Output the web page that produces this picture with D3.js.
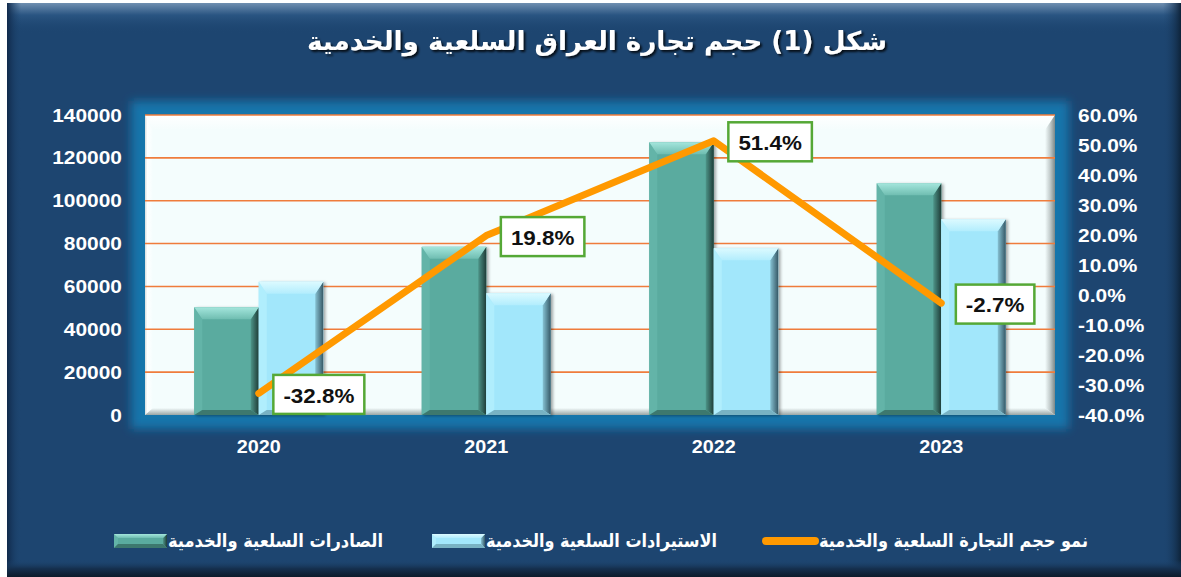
<!DOCTYPE html>
<html>
<head>
<meta charset="utf-8">
<script src="https://cdn.jsdelivr.net/npm/d3@7"></script>
<style>
  body { margin: 0; background: #fff; }
  svg { display: block; }
</style>
</head>
<body>
<script>
// chart values
const titleText = "شكل (1) حجم تجارة العراق السلعية والخدمية";
const years = ["2020", "2021", "2022", "2023"];
const exportsVals = [50300, 78500, 127300, 108100];
const importsVals = [62200, 56800, 77800, 91300];
const growthVals = [-32.8, 19.8, 51.4, -2.7];
const leftTicks = [0, 20000, 40000, 60000, 80000, 100000, 120000, 140000];
const rightTicks = [-40, -30, -20, -10, 0, 10, 20, 30, 40, 50, 60];
const legendNames = ["الصادرات السلعية والخدمية", "الاستيرادات السلعية والخدمية", "نمو حجم التجارة السلعية والخدمية"];

const W = 1181, H = 577;
const plot = {left: 145, top: 115, right: 1055, bottom: 415};
const stretch = 1.1;

const svg = d3.select("body").append("svg").attr("width", W).attr("height", H);
const defs = svg.append("defs");

function grad(id, x1, y1, x2, y2, stops) {
    let g = defs.append("linearGradient").attr("id", id)
        .attr("x1", x1).attr("y1", y1).attr("x2", x2).attr("y2", y2);
    stops.forEach(function (s) {
        g.append("stop").attr("offset", s[0]).attr("stop-color", s[1])
            .attr("stop-opacity", s[2] === undefined ? 1 : s[2]);
    });
}

grad("topHi", 0, 0, 0, 1, [[0, "#6f8fb0"], [0.4, "#2a5582"], [1, "#1d4570", 0]]);
grad("rightDk", 0, 0, 1, 0, [[0, "#1d4570", 0], [1, "#0e2339"]]);
grad("leftDk", 0, 0, 1, 0, [[0, "#10294a"], [1, "#1d4570", 0]]);
grad("botDk", 0, 0, 0, 1, [[0, "#1d4570", 0], [0.5, "#15304f"], [1, "#0c1a2a"]]);
grad("pTop", 0, 0, 0, 1, [[0, "#ffffff"], [1, "#f4fdfd"]]);
grad("pLeft", 0, 0, 1, 0, [[0, "#d8dede"], [0.3, "#ffffff"], [1, "#f4fdfd"]]);
grad("pRight", 0, 0, 1, 0, [[0, "#f4fdfd"], [0.5, "#c3cccc"], [1, "#7d8888"]]);
grad("pBot", 0, 0, 0, 1, [[0, "#f4fdfd"], [1, "#9aa5a5"]]);

grad("tealTop", 0, 0, 0, 1, [[0, "#a4e6dc"], [1, "#6fbdb1"]]);
grad("tealRight", 0, 0, 1, 0, [[0, "#4d9488"], [1, "#1f3d38"]]);
grad("blueTop", 0, 0, 0, 1, [[0, "#dcfaff"], [1, "#b2edfd"]]);
grad("blueRight", 0, 0, 1, 0, [[0, "#86c2d3"], [1, "#365866"]]);

let blur = defs.append("filter").attr("id", "glow").attr("x", "-10%").attr("y", "-10%")
    .attr("width", "120%").attr("height", "120%");
blur.append("feGaussianBlur").attr("stdDeviation", 5);

let shadow = defs.append("filter").attr("id", "shadow").attr("x", "-20%").attr("y", "-20%")
    .attr("width", "140%").attr("height", "140%");
shadow.append("feDropShadow").attr("dx", 2).attr("dy", 1).attr("stdDeviation", 1.5)
    .attr("flood-color", "#000").attr("flood-opacity", 0.35);

let tshadow = defs.append("filter").attr("id", "tshadow").attr("x", "-10%").attr("y", "-30%")
    .attr("width", "120%").attr("height", "160%");
tshadow.append("feDropShadow").attr("dx", 2).attr("dy", 2).attr("stdDeviation", 1.2)
    .attr("flood-color", "#000").attr("flood-opacity", 0.8);

// panel
svg.append("rect").attr("x", 7).attr("y", 3).attr("width", W - 7).attr("height", H - 3).attr("fill", "#1d4570");
svg.append("rect").attr("x", 7).attr("y", 3).attr("width", W - 7).attr("height", 30).attr("fill", "url(#topHi)");
svg.append("rect").attr("x", 7).attr("y", 3).attr("width", 14).attr("height", H - 3).attr("fill", "url(#leftDk)");
svg.append("rect").attr("x", W - 18).attr("y", 3).attr("width", 18).attr("height", H - 3).attr("fill", "url(#rightDk)");
svg.append("rect").attr("x", 7).attr("y", 560).attr("width", W - 7).attr("height", H - 560).attr("fill", "url(#botDk)");

// title
svg.append("text")
    .attr("x", 597).attr("y", 50)
    .attr("text-anchor", "middle")
    .attr("textLength", 580).attr("lengthAdjust", "spacingAndGlyphs")
    .attr("filter", "url(#tshadow)")
    .style("font", "bold 26px 'DejaVu Sans', sans-serif")
    .style("fill", "#fff")
    .text(titleText);

// plot area glow + bevel
svg.append("rect").attr("x", 131).attr("y", 101).attr("width", plot.right - plot.left + 28)
    .attr("height", plot.bottom - plot.top + 28).attr("fill", "#1475ab").attr("filter", "url(#glow)");
let pw = plot.right - plot.left, ph = plot.bottom - plot.top;
svg.append("rect").attr("x", plot.left).attr("y", plot.top).attr("width", pw).attr("height", ph).attr("fill", "#f4fdfd");
let pb = 10;
svg.append("polygon").attr("fill", "url(#pTop)")
    .attr("points", [[plot.left, plot.top], [plot.right, plot.top], [plot.right - pb, plot.top + 15], [plot.left + 8, plot.top + 15]].join(" "));
svg.append("polygon").attr("fill", "url(#pLeft)")
    .attr("points", [[plot.left, plot.top], [plot.left + 8, plot.top + 15], [plot.left + 8, plot.bottom - 7], [plot.left, plot.bottom]].join(" "));
svg.append("polygon").attr("fill", "url(#pRight)")
    .attr("points", [[plot.right, plot.top], [plot.right, plot.bottom], [plot.right - pb, plot.bottom - 7], [plot.right - pb, plot.top + 15]].join(" "));
svg.append("polygon").attr("fill", "url(#pBot)")
    .attr("points", [[plot.left, plot.bottom], [plot.right, plot.bottom], [plot.right - pb, plot.bottom - 7], [plot.left + 8, plot.bottom - 7]].join(" "));

// scales
let x = d3.scaleBand().domain(years).range([plot.left, plot.right]).paddingInner(0.433).paddingOuter(0.2165);
let xs = d3.scaleBand().domain(["exp", "imp"]).range([0, x.bandwidth()]);
let yL = d3.scaleLinear().domain([0, 140000]).range([plot.bottom, plot.top]);
let yR = d3.scaleLinear().domain([-40, 60]).range([plot.bottom, plot.top]);

// gridlines
svg.append("g").selectAll("line").data(leftTicks.filter(function (d) { return d > 0; }))
    .enter().append("line")
    .attr("x1", plot.left).attr("x2", plot.right)
    .attr("y1", function (d) { return yL(d); }).attr("y2", function (d) { return yL(d); })
    .attr("stroke", "#ef7c3c").attr("stroke-width", 1.6);

// axes
function styleAxis(g, size) {
    g.select(".domain").remove();
    g.selectAll("text")
        .attr("transform", "scale(" + stretch + ",1)")
        .style("font", "bold " + size + "px 'Liberation Sans', Arial, sans-serif")
        .style("fill", "#fff");
}

svg.append("g").attr("transform", "translate(" + plot.left + ",0)")
    .call(d3.axisLeft(yL).tickValues(leftTicks).tickSize(0).tickPadding(21).tickFormat(d3.format("d")))
    .call(styleAxis, 19);

svg.append("g").attr("transform", "translate(" + plot.right + ",0)")
    .call(d3.axisRight(yR).tickValues(rightTicks).tickSize(0).tickPadding(21)
        .tickFormat(function (d) { return (d < 0 ? "-" : "") + Math.abs(d).toFixed(1) + "%"; }))
    .call(styleAxis, 19);

svg.append("g").attr("transform", "translate(0," + plot.bottom + ")")
    .call(d3.axisBottom(x).tickSize(0).tickPadding(25))
    .call(styleAxis, 18);

// bevelled bar
function bevelBar(g, bx, by, w, h, c, s, t, b) {
    let bar = g.append("g");
    bar.append("rect").attr("x", bx).attr("y", by).attr("width", w).attr("height", h).attr("fill", c.base);
    bar.append("polygon").attr("fill", c.left)
        .attr("points", [[bx, by], [bx + s, by + t], [bx + s, by + h - b], [bx, by + h]].join(" "));
    bar.append("polygon").attr("fill", c.right)
        .attr("points", [[bx + w, by], [bx + w, by + h], [bx + w - s, by + h - b], [bx + w - s, by + t]].join(" "));
    bar.append("polygon").attr("fill", c.bottom)
        .attr("points", [[bx, by + h], [bx + w, by + h], [bx + w - s, by + h - b], [bx + s, by + h - b]].join(" "));
    bar.append("polygon").attr("fill", c.top)
        .attr("points", [[bx, by], [bx + w, by], [bx + w - s, by + t], [bx + s, by + t]].join(" "));
    return bar;
}

let teal = {base: "#5aab9f", top: "url(#tealTop)", left: "#63b4a8", right: "url(#tealRight)", bottom: "#3d786e"};
let blue = {base: "#a2e7fb", top: "url(#blueTop)", left: "#b0eefd", right: "url(#blueRight)", bottom: "#78b2c3"};

let bars = svg.append("g").attr("filter", "url(#shadow)");
years.forEach(function (yr, i) {
    let e = exportsVals[i], m = importsVals[i];
    bevelBar(bars, x(yr) + xs("exp"), yL(e), xs.bandwidth(), yL(0) - yL(e), teal, 8, 12, 5);
    bevelBar(bars, x(yr) + xs("imp"), yL(m), xs.bandwidth(), yL(0) - yL(m), blue, 8, 12, 5);
});

// growth line
let pts = years.map(function (yr, i) { return {year: yr, g: growthVals[i]}; });
let line = d3.line()
    .x(function (d) { return x(d.year) + x.bandwidth() / 2; })
    .y(function (d) { return yR(d.g); });

svg.append("path").datum(pts)
    .attr("d", line)
    .attr("fill", "none")
    .attr("stroke", "#ff9900")
    .attr("stroke-width", 7)
    .attr("stroke-linecap", "round")
    .attr("stroke-linejoin", "round");

// data labels
pts.forEach(function (d) {
    let px = x(d.year) + x.bandwidth() / 2, py = yR(d.g);
    let lg = svg.append("g").attr("transform", "translate(" + (px + 14.6) + "," + (py + 1) + ")");
    let box = lg.append("rect").attr("y", -19.5).attr("height", 39)
        .attr("fill", "#fff").attr("stroke", "#55a836").attr("stroke-width", 2.5);
    let tg = lg.append("g");
    let t = tg.append("text")
        .attr("text-anchor", "middle").attr("dy", "0.36em")
        .style("font", "bold 20px 'Liberation Sans', Arial, sans-serif")
        .style("fill", "#111")
        .text((d.g < 0 ? "-" : "") + Math.abs(d.g).toFixed(1) + "%");
    let tw = t.node().getComputedTextLength() * 1.12;
    let bw = tw + 20;
    box.attr("width", bw);
    tg.attr("transform", "translate(" + (bw / 2) + ",1) scale(1.12,1)");
});

// legend
let legend = svg.append("g");
let legY = 541;
bevelBar(legend, 114, legY - 7, 53, 14, teal, 4, 4, 4);
bevelBar(legend, 432, legY - 7, 53, 14, blue, 4, 4, 4);
legend.append("line").attr("x1", 766).attr("x2", 815).attr("y1", legY).attr("y2", legY)
    .attr("stroke", "#ff9900").attr("stroke-width", 8).attr("stroke-linecap", "round");

let legText = [[168, 215], [486, 231], [819, 269]];
legendNames.forEach(function (n, i) {
    legend.append("text")
        .attr("x", legText[i][0]).attr("y", legY + 6)
        .attr("textLength", legText[i][1]).attr("lengthAdjust", "spacingAndGlyphs")
        .style("font", "bold 18px 'DejaVu Sans', sans-serif")
        .style("fill", "#fff")
        .text(n);
});
</script>
</body>
</html>
